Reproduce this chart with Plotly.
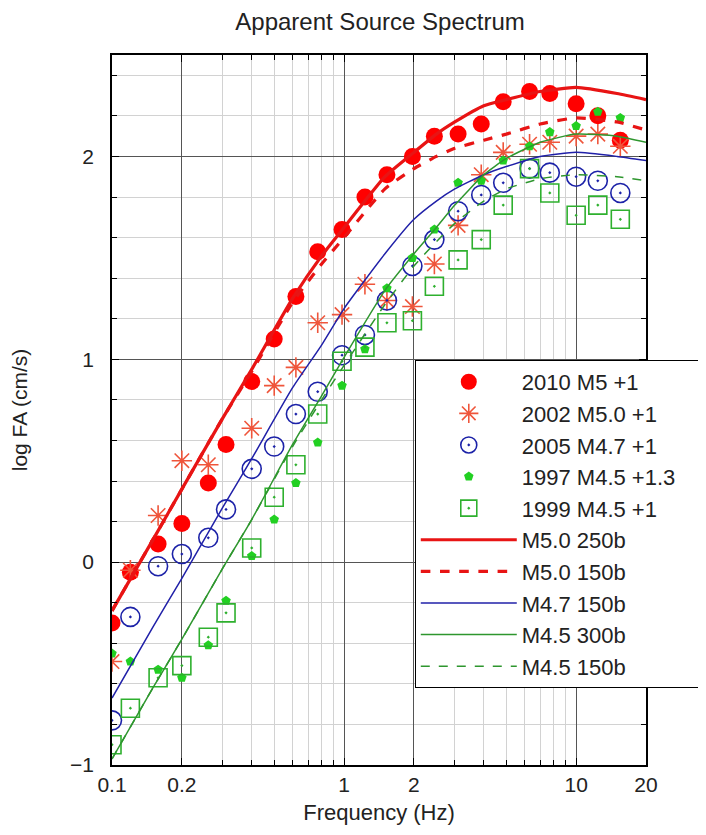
import plotly.graph_objects as go

# ---------------- data ----------------
FREQ = [0.1, 0.12, 0.158, 0.2, 0.26, 0.31, 0.4, 0.5, 0.62, 0.77, 0.98, 1.23,
        1.53, 1.97, 2.45, 3.1, 3.9, 4.85, 6.3, 7.7, 10.0, 12.4, 15.5]

EQ2010_M5 = [-0.30, -0.05, 0.09, 0.19, 0.39, 0.58, 0.89, 1.10, 1.31, 1.53, 1.64, 1.80,
             1.91, 2.00, 2.10, 2.11, 2.16, 2.27, 2.32, 2.31, 2.26, 2.20, 2.08]
EQ2002_M50 = [-0.49, -0.04, 0.23, 0.50, 0.48, None, 0.66, 0.87, 0.96, 1.18, 1.22, 1.37,
              1.29, 1.26, 1.47, 1.66, 1.91, 2.02, 2.06, 2.07, 2.10, 2.11, 2.05]
EQ2005_M47 = [-0.78, -0.27, -0.02, 0.04, 0.12, 0.26, 0.46, 0.57, 0.73, 0.84, 1.02, 1.12,
              1.29, 1.46, 1.59, 1.73, 1.81, 1.87, 1.94, 1.92, 1.90, 1.88, 1.82]
EQ1997_M45 = [-0.45, -0.49, -0.53, -0.57, -0.41, -0.19, 0.03, 0.21, 0.39, 0.59, 0.87, 1.05,
              1.35, 1.50, 1.64, 1.87, 1.88, 1.98, 2.05, 2.12, 2.15, 2.22, 2.19]
EQ1999_M45 = [-0.90, -0.72, -0.57, -0.51, -0.37, -0.25, 0.07, 0.32, 0.48, 0.73, 0.99, 1.06,
              1.18, 1.19, 1.36, 1.49, 1.59, 1.76, 1.94, 1.82, 1.71, 1.76, 1.69]

MODEL_FREQ = [0.1, 0.15, 0.2, 0.3, 0.4, 0.6, 0.8, 1.0, 1.5, 2.0, 2.5, 3.0, 4.0, 5.0, 7.0, 10.0, 15.0, 20.0]
M50_250B = [-0.24, 0.11, 0.36, 0.71, 0.95, 1.30, 1.51, 1.65, 1.90, 2.02, 2.11, 2.17, 2.25, 2.28, 2.32, 2.34, 2.31, 2.28]
M50_150B = [-0.24, 0.11, 0.36, 0.71, 0.94, 1.28, 1.47, 1.60, 1.84, 1.94, 2.00, 2.04, 2.08, 2.11, 2.16, 2.19, 2.17, 2.13]
M47_150B = [-0.67, -0.32, -0.08, 0.27, 0.51, 0.86, 1.07, 1.25, 1.52, 1.69, 1.78, 1.84, 1.91, 1.95, 2.00, 2.02, 2.00, 1.98]
M45_300B = [-0.97, -0.62, -0.38, -0.03, 0.21, 0.58, 0.82, 1.01, 1.34, 1.52, 1.65, 1.76, 1.91, 1.99, 2.07, 2.11, 2.10, 2.07]
M45_150B = [-0.97, -0.62, -0.38, -0.03, 0.21, 0.57, 0.80, 0.97, 1.27, 1.46, 1.58, 1.67, 1.78, 1.84, 1.89, 1.91, 1.90, 1.88]

X_TICKS = [0.1, 0.2, 1, 2, 10, 20]
X_TICK_TEXT = ["0.1", "0.2", "1", "2", "10", "20"]
X_MINOR = [0.3, 0.4, 0.5, 0.6, 0.7, 0.8, 0.9, 3, 4, 5, 6, 7, 8, 9]
Y_TICKS = [-1, 0, 1, 2]

FONT = "Liberation Sans, Arial, sans-serif"
TXT = "#222222"
PAD = "\u00a0" * 4   # widens the legend box so it runs to the right edge, as in the original

fig = go.Figure()

# observed spectra
fig.add_trace(go.Scatter(x=FREQ, y=EQ2010_M5, mode="markers", name="2010 M5 +1",
                         marker=dict(symbol="circle", size=17, color="#ff0000",
                                     line=dict(width=0))))
fig.add_trace(go.Scatter(x=FREQ, y=EQ2002_M50, mode="markers", name="2002 M5.0 +1",
                         marker=dict(symbol="asterisk-open", size=17,
                                     line=dict(width=1.6, color="#f04a4a"))))
fig.add_trace(go.Scatter(x=FREQ, y=EQ2005_M47, mode="markers", name="2005 M4.7 +1",
                         marker=dict(symbol="circle-open-dot", size=19, color="#1c22a8",
                                     line=dict(width=1.6, color="#1c22a8"))))
fig.add_trace(go.Scatter(x=FREQ, y=EQ1997_M45, mode="markers", name="1997 M4.5 +1.3" + PAD,
                         marker=dict(symbol="pentagon", size=10, color="#22d022",
                                     line=dict(width=0))))
fig.add_trace(go.Scatter(x=FREQ, y=EQ1999_M45, mode="markers", name="1999 M4.5 +1",
                         marker=dict(symbol="square-open-dot", size=18, color="#2eb02e",
                                     line=dict(width=1.6, color="#2eb02e"))))

# model curves
fig.add_trace(go.Scatter(x=MODEL_FREQ, y=M50_250B, mode="lines", name="M5.0 250b",
                         line=dict(color="#e81414", width=3.2, shape="spline", smoothing=0.5)))
fig.add_trace(go.Scatter(x=MODEL_FREQ, y=M50_150B, mode="lines", name="M5.0 150b",
                         line=dict(color="#e81414", width=3.2, dash="dash", shape="spline", smoothing=0.5)))
fig.add_trace(go.Scatter(x=MODEL_FREQ, y=M47_150B, mode="lines", name="M4.7 150b",
                         line=dict(color="#2020a8", width=1.5, shape="spline", smoothing=0.5)))
fig.add_trace(go.Scatter(x=MODEL_FREQ, y=M45_300B, mode="lines", name="M4.5 300b",
                         line=dict(color="#2e962e", width=1.5, shape="spline", smoothing=0.5)))
fig.add_trace(go.Scatter(x=MODEL_FREQ, y=M45_150B, mode="lines", name="M4.5 150b",
                         line=dict(color="#2e962e", width=1.5, dash="dash", shape="spline", smoothing=0.5)))

fig.update_layout(
    width=706, height=835,
    margin=dict(l=104, r=68, t=47, b=78, autoexpand=False),
    paper_bgcolor="white", plot_bgcolor="white",
    font=dict(family=FONT, color=TXT, size=21),
    title=dict(text="Apparent Source Spectrum", x=0.527, xanchor="center",
               y=0.9832, yanchor="middle", font=dict(size=24, color=TXT)),
    showlegend=True,
    legend=dict(x=0.567, y=0.5705, xanchor="left", yanchor="top",
                bgcolor="white", bordercolor="black", borderwidth=1,
                font=dict(size=22, color=TXT), itemwidth=96,
                tracegroupgap=0, traceorder="normal"),
)

fig.update_xaxes(
    type="log", range=[-1, 1.30103], automargin=False,
    tickvals=X_TICKS, ticktext=X_TICK_TEXT,
    showgrid=True, gridcolor="#555555", gridwidth=1,
    ticks="inside", ticklen=7, tickcolor="black",
    showline=True, linecolor="black", linewidth=1.5, mirror="ticks",
    zeroline=False,
    tickfont=dict(size=21, color=TXT),
    title=dict(text="Frequency (Hz)", font=dict(size=22, color=TXT), standoff=10),
    minor=dict(tickvals=X_MINOR, showgrid=True, gridcolor="#d2d2d2", gridwidth=1,
               ticks="inside", ticklen=5, tickcolor="black"),
)

fig.update_yaxes(
    range=[-1, 2.5], automargin=False,
    tickvals=Y_TICKS,
    showgrid=True, gridcolor="#555555", gridwidth=1,
    ticks="inside", ticklen=7, tickcolor="black",
    showline=True, linecolor="black", linewidth=1.5, mirror="ticks",
    zeroline=False,
    tickfont=dict(size=21, color=TXT),
    ticklabelstandoff=12,
    title=dict(text="log FA (cm/s)", font=dict(size=21, color=TXT), standoff=40),
    minor=dict(dtick=0.2, showgrid=True, gridcolor="#d2d2d2", gridwidth=1,
               ticks="inside", ticklen=5, tickcolor="black"),
)

fig.write_html("out.html")
